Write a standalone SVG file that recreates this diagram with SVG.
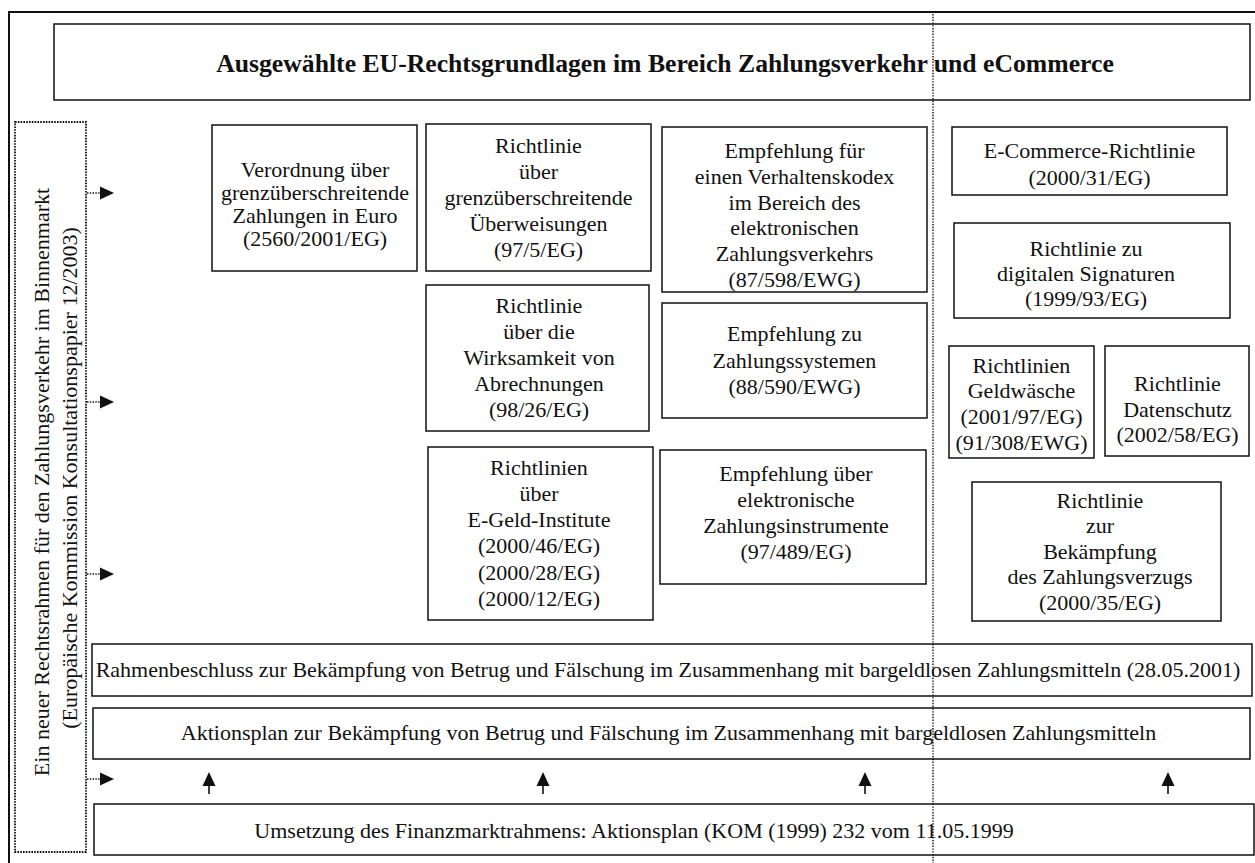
<svg xmlns="http://www.w3.org/2000/svg" width="1255" height="863" viewBox="0 0 1255 863">
  <style>
    .box { fill: #ffffff; stroke: #111111; stroke-width: 1.5; }
    .frame { fill: none; stroke: #111111; stroke-width: 2; }
    .dotbox { fill: none; stroke: #111111; stroke-width: 1.8; stroke-dasharray: 1.6 1.2; }
    .dots { fill: none; stroke: #111111; stroke-width: 1.4; stroke-dasharray: 1.4 1.4; }
    .stem { fill: none; stroke: #111111; stroke-width: 1.6; }
    .head { fill: #111111; stroke: none; }
    text { font-family: "Liberation Serif", "Times New Roman", serif; font-size: 22px; fill: #111111; text-anchor: middle; }
    .title { font-weight: bold; font-size: 25.7px; }
  </style>

  <!-- outer frame (runs past the right and bottom edges) -->
  <rect class="frame" x="9" y="12" width="1262" height="870"/>

  <!-- heading -->
  <g id="title">
    <rect class="box" x="54" y="24" width="1196" height="76"/>
    <text class="title" x="665" y="72">Ausgewählte EU-Rechtsgrundlagen im Bereich Zahlungsverkehr und eCommerce</text>
  </g>

  <!-- framework label on the left -->
  <g id="framework">
    <rect class="dotbox" x="15" y="122" width="71" height="730"/>
    <text transform="translate(49,482) rotate(-90)">Ein neuer Rechtsrahmen für den Zahlungsverkehr im Binnenmarkt</text>
    <text transform="translate(76.5,478) rotate(-90)">(Europäische Kommission Konsultationspapier 12/2003)</text>
  </g>

  <!-- column 1 -->
  <g id="verordnung-2560">
    <rect class="box" x="212" y="125" width="205" height="146"/>
    <text x="315" y="177">Verordnung über</text>
    <text x="315" y="200">grenzüberschreitende</text>
    <text x="315" y="223">Zahlungen in Euro</text>
    <text x="315" y="246">(2560/2001/EG)</text>
  </g>

  <!-- column 2 -->
  <g id="richtlinie-97-5">
    <rect class="box" x="426" y="124" width="225" height="147"/>
    <text x="538.5" y="152.5">Richtlinie</text>
    <text x="538.5" y="178.5">über</text>
    <text x="538.5" y="204.5">grenzüberschreitende</text>
    <text x="538.5" y="230.5">Überweisungen</text>
    <text x="538.5" y="256.5">(97/5/EG)</text>
  </g>

  <g id="richtlinie-98-26">
    <rect class="box" x="426" y="285" width="223" height="146"/>
    <text x="539" y="313">Richtlinie</text>
    <text x="539" y="339">über die</text>
    <text x="539" y="365">Wirksamkeit von</text>
    <text x="539" y="391">Abrechnungen</text>
    <text x="539" y="417">(98/26/EG)</text>
  </g>

  <g id="richtlinien-egeld">
    <rect class="box" x="428" y="447" width="225" height="173"/>
    <text x="539" y="474.5">Richtlinien</text>
    <text x="539" y="500.8">über</text>
    <text x="539" y="527.1">E-Geld-Institute</text>
    <text x="539" y="553.4">(2000/46/EG)</text>
    <text x="539" y="579.7">(2000/28/EG)</text>
    <text x="539" y="606">(2000/12/EG)</text>
  </g>

  <!-- column 3 -->
  <g id="empfehlung-87-598">
    <rect class="box" x="662" y="127" width="265" height="165"/>
    <text x="794.5" y="158">Empfehlung für</text>
    <text x="794.5" y="183.8">einen Verhaltenskodex</text>
    <text x="794.5" y="209.6">im Bereich des</text>
    <text x="794.5" y="235.4">elektronischen</text>
    <text x="794.5" y="261.2">Zahlungsverkehrs</text>
    <text x="794.5" y="287">(87/598/EWG)</text>
  </g>

  <g id="empfehlung-88-590">
    <rect class="box" x="662" y="303" width="265" height="115"/>
    <text x="794.5" y="341">Empfehlung zu</text>
    <text x="794.5" y="367.5">Zahlungssystemen</text>
    <text x="794.5" y="394">(88/590/EWG)</text>
  </g>

  <g id="empfehlung-97-489">
    <rect class="box" x="660" y="450" width="266" height="134"/>
    <text x="796" y="481">Empfehlung über</text>
    <text x="796" y="507">elektronische</text>
    <text x="796" y="533">Zahlungsinstrumente</text>
    <text x="796" y="559">(97/489/EG)</text>
  </g>

  <!-- column 4 -->
  <g id="ecommerce-richtlinie">
    <rect class="box" x="952" y="127" width="275" height="68"/>
    <text x="1089.5" y="158">E-Commerce-Richtlinie</text>
    <text x="1089.5" y="184.5">(2000/31/EG)</text>
  </g>

  <g id="richtlinie-signaturen">
    <rect class="box" x="954" y="223" width="276" height="95"/>
    <text x="1086" y="256">Richtlinie zu</text>
    <text x="1086" y="281">digitalen Signaturen</text>
    <text x="1086" y="306">(1999/93/EG)</text>
  </g>

  <g id="richtlinien-geldwaesche">
    <rect class="box" x="949" y="346" width="145" height="112"/>
    <text x="1021.5" y="372.5">Richtlinien</text>
    <text x="1021.5" y="398.3">Geldwäsche</text>
    <text x="1021.5" y="424.1">(2001/97/EG)</text>
    <text x="1021.5" y="449.9">(91/308/EWG)</text>
  </g>

  <g id="richtlinie-datenschutz">
    <rect class="box" x="1105" y="346" width="144" height="110"/>
    <text x="1177.5" y="391">Richtlinie</text>
    <text x="1177.5" y="416.5">Datenschutz</text>
    <text x="1177.5" y="442">(2002/58/EG)</text>
  </g>

  <g id="richtlinie-zahlungsverzug">
    <rect class="box" x="972" y="482" width="249" height="139"/>
    <text x="1100" y="507.5">Richtlinie</text>
    <text x="1100" y="533">zur</text>
    <text x="1100" y="558.5">Bekämpfung</text>
    <text x="1100" y="584">des Zahlungsverzugs</text>
    <text x="1100" y="609.5">(2000/35/EG)</text>
  </g>

  <!-- full-width rows -->
  <g id="rahmenbeschluss">
    <rect class="box" x="92" y="644" width="1160" height="52"/>
    <text x="668" y="677">Rahmenbeschluss zur Bekämpfung von Betrug und Fälschung im Zusammenhang mit bargeldlosen Zahlungsmitteln (28.05.2001)</text>
  </g>

  <g id="aktionsplan-betrug">
    <rect class="box" x="93" y="708" width="1157" height="51"/>
    <text x="668.5" y="740">Aktionsplan zur Bekämpfung von Betrug und Fälschung im Zusammenhang mit bargeldlosen Zahlungsmitteln</text>
  </g>

  <g id="umsetzung-fap">
    <rect class="box" x="94" y="804" width="1160" height="51"/>
    <text x="634" y="838">Umsetzung des Finanzmarktrahmens: Aktionsplan (KOM (1999) 232 vom 11.05.1999</text>
  </g>

  <!-- connectors -->
  <g id="connectors">
    <!-- dotted pointers out of the framework label -->
    <line class="dots" x1="87" y1="193" x2="100" y2="193"/>
    <polygon class="head" points="100,186.5 114,193 100,199.5"/>
    <line class="dots" x1="87" y1="402" x2="100" y2="402"/>
    <polygon class="head" points="100,395.5 114,402 100,408.5"/>
    <line class="dots" x1="87" y1="574" x2="100" y2="574"/>
    <polygon class="head" points="100,567.5 114,574 100,580.5"/>
    <line class="dots" x1="87" y1="779" x2="100" y2="779"/>
    <polygon class="head" points="100,772.5 114,779 100,785.5"/>

    <!-- upward arrows from the implementation row -->
    <line class="stem" x1="209" y1="794" x2="209" y2="784"/>
    <polygon class="head" points="202.5,786 215.5,786 209,772"/>
    <line class="stem" x1="543" y1="794" x2="543" y2="784"/>
    <polygon class="head" points="536.5,786 549.5,786 543,772"/>
    <line class="stem" x1="865" y1="794" x2="865" y2="784"/>
    <polygon class="head" points="858.5,786 871.5,786 865,772"/>
    <line class="stem" x1="1168" y1="794" x2="1168" y2="784"/>
    <polygon class="head" points="1161.5,786 1174.5,786 1168,772"/>

    <!-- dotted divider in front of the right-hand column -->
    <line class="dots" x1="933" y1="14" x2="933" y2="863"/>
  </g>
</svg>
